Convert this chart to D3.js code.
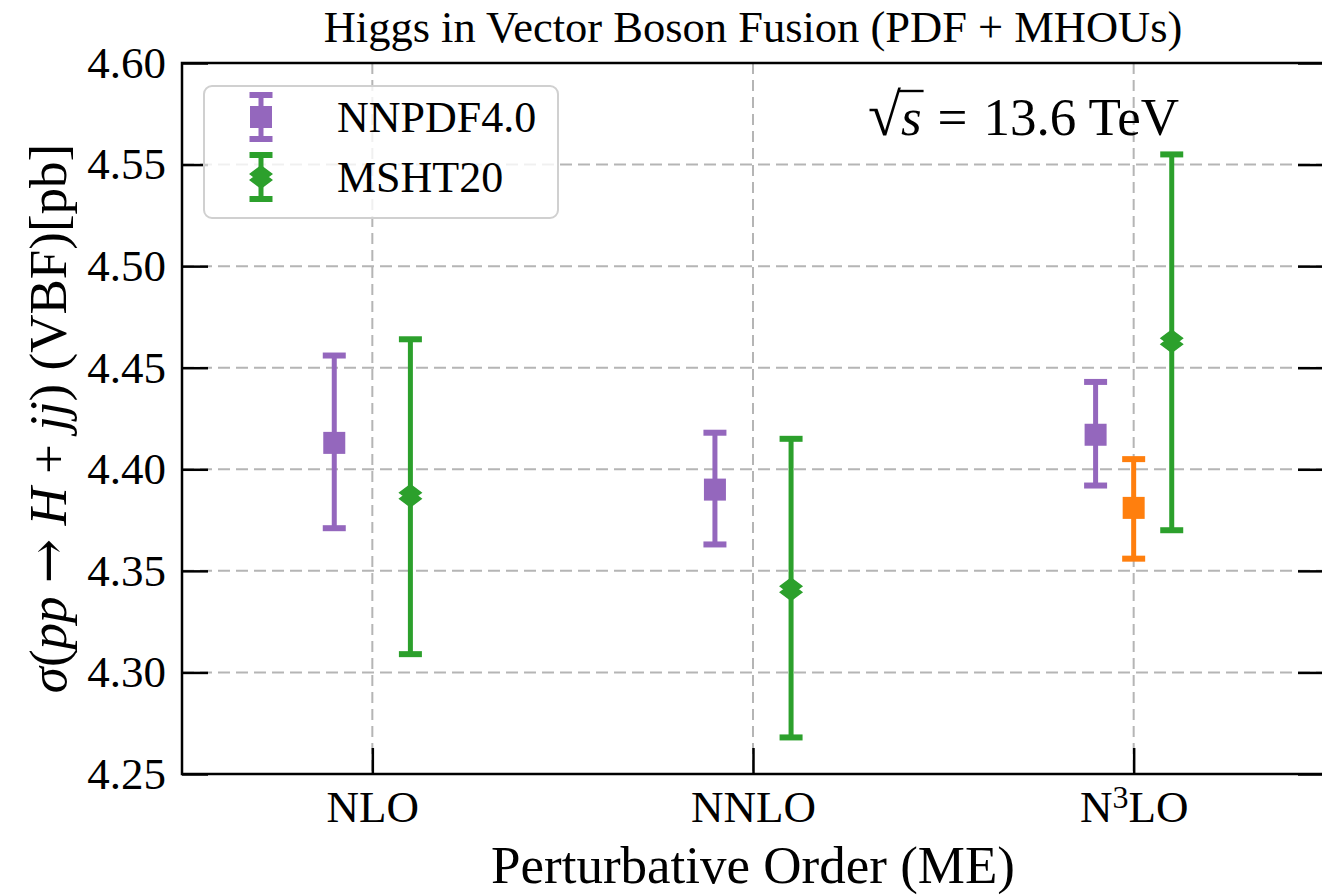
<!DOCTYPE html>
<html>
<head>
<meta charset="utf-8">
<script src="https://cdn.jsdelivr.net/npm/d3@7"></script>
<style>
  html, body { margin: 0; padding: 0; background: #fff; }
  svg { display: block; }
  svg text { font-family: 'Liberation Serif', serif; fill: #000; }
</style>
</head>
<body>
<div id="chart"></div>
<script>
/**
 * Chart data.
 */
const categories = ["NLO", "NNLO", "N3LO"];

const nnpdfCentral = [4.413, 4.390, 4.417];
const nnpdfLow = [4.371, 4.363, 4.392];
const nnpdfHigh = [4.456, 4.418, 4.443];

const mshtCentral = [4.387, 4.341, 4.463];
const mshtLow = [4.309, 4.268, 4.370];
const mshtHigh = [4.464, 4.415, 4.555];

// extra unlabelled point at N3LO
const extraCategory = [2];
const extraCentral = [4.381];
const extraLow = [4.356];
const extraHigh = [4.405];

const yTicks = [4.25, 4.30, 4.35, 4.40, 4.45, 4.50, 4.55, 4.60];

/**
 * Layout / style.
 */
const width = 1322, height = 896;
const plot = { left: 182, right: 1324, top: 63, bottom: 774 };
const tickLen = 26;
const colors = { nnpdf: "#9467bd", msht: "#2ca02c", extra: "#ff7f0e" };
const seriesOffset = 0.1;
const markerSize = 22;
const capWidth = 23;
const barWidth = 5;
const serif = "'Liberation Serif', serif";

const svg = d3.select("#chart").append("svg")
  .attr("width", width)
  .attr("height", height)
  .attr("font-family", serif);

const x = d3.scaleLinear().domain([-0.5, 2.5]).range([plot.left, plot.right]);
const y = d3.scaleLinear().domain([4.25, 4.60]).range([plot.bottom, plot.top]);

/**
 * Grid.
 */
const grid = svg.append("g").attr("class", "grid")
  .attr("stroke", "#b5b5b5")
  .attr("stroke-width", 2)
  .attr("stroke-dasharray", "12,6");

grid.selectAll(".hgrid").data(yTicks.slice(1, -1)).enter().append("line")
  .attr("x1", plot.left).attr("x2", plot.right)
  .attr("y1", d => y(d)).attr("y2", d => y(d));

grid.selectAll(".vgrid").data(d3.range(categories.length)).enter().append("line")
  .attr("stroke-dasharray", "11,6")
  .attr("x1", d => x(d)).attr("x2", d => x(d))
  .attr("y1", plot.top).attr("y2", plot.bottom);

/**
 * Axes (ticks pointing in).
 */
svg.append("g")
  .attr("transform", `translate(${plot.left},0)`)
  .call(d3.axisLeft(y).tickValues(yTicks).tickFormat(d3.format(".2f"))
    .tickSizeInner(-tickLen).tickSizeOuter(0).tickPadding(16));

svg.append("g")
  .attr("transform", `translate(${plot.right},0)`)
  .call(d3.axisRight(y).tickValues(yTicks).tickFormat("")
    .tickSizeInner(-tickLen).tickSizeOuter(0));

const xAxis = svg.append("g")
  .attr("transform", `translate(0,${plot.bottom})`)
  .call(d3.axisBottom(x).tickValues(d3.range(categories.length))
    .tickFormat(i => categories[i])
    .tickSizeInner(-tickLen).tickSizeOuter(0).tickPadding(16));

svg.selectAll(".domain").remove();
svg.selectAll("g").attr("font-family", serif);
svg.selectAll(".tick line").attr("stroke", "#000").attr("stroke-width", 2.5);
svg.selectAll(".tick text")
  .attr("fill", "#000")
  .attr("font-size", 45);

// N^3LO superscript
xAxis.selectAll(".tick text").filter(d => categories[d] === "N3LO")
  .text(null)
  .call(t => {
    t.append("tspan").text("N");
    t.append("tspan").attr("dy", -14).attr("font-size", 32).text("3");
    t.append("tspan").attr("dy", 14).text("LO");
  });

// frame
svg.append("rect")
  .attr("x", plot.left).attr("y", plot.top)
  .attr("width", plot.right - plot.left).attr("height", plot.bottom - plot.top)
  .attr("fill", "none").attr("stroke", "#000").attr("stroke-width", 2.5);

/**
 * Error bars.
 */
const series = [
  { name: "NNPDF4.0", color: colors.nnpdf, marker: "square", xs: d3.range(3).map(i => i - seriesOffset), c: nnpdfCentral, lo: nnpdfLow, hi: nnpdfHigh },
  { name: "MSHT20", color: colors.msht, marker: "diamond", xs: d3.range(3).map(i => i + seriesOffset), c: mshtCentral, lo: mshtLow, hi: mshtHigh },
  { name: null, color: colors.extra, marker: "square", xs: extraCategory, c: extraCentral, lo: extraLow, hi: extraHigh }
];

const diamondPath = (cx, cy) => {
  const w = 12, h = 9, off = 3;
  const d = (oy) => `M${cx},${cy + oy - h} L${cx + w},${cy + oy} L${cx},${cy + oy + h} L${cx - w},${cy + oy} Z`;
  return d(-off) + d(off);
};

const drawMarker = (g, type, cx, cy, color) => {
  if (type === "square") {
    g.append("rect")
      .attr("x", cx - markerSize / 2).attr("y", cy - markerSize / 2)
      .attr("width", markerSize).attr("height", markerSize)
      .attr("fill", color);
  } else {
    g.append("path").attr("d", diamondPath(cx, cy)).attr("fill", color);
  }
};

const drawErrorBar = (g, cx, yLo, yHi, color) => {
  g.append("line")
    .attr("x1", cx).attr("x2", cx).attr("y1", yLo).attr("y2", yHi)
    .attr("stroke", color).attr("stroke-width", barWidth);
  [yLo, yHi].forEach(yy => g.append("line")
    .attr("x1", cx - capWidth / 2).attr("x2", cx + capWidth / 2)
    .attr("y1", yy).attr("y2", yy)
    .attr("stroke", color).attr("stroke-width", barWidth + 1));
};

const marks = svg.append("g").attr("class", "marks");
series.forEach(s => {
  s.xs.forEach((xv, i) => {
    const g = marks.append("g");
    drawErrorBar(g, x(xv), y(s.lo[i]), y(s.hi[i]), s.color);
    drawMarker(g, s.marker, x(xv), y(s.c[i]), s.color);
  });
});

/**
 * Legend.
 */
const legend = svg.append("g").attr("class", "legend");
legend.append("rect")
  .attr("x", 204).attr("y", 86).attr("width", 354).attr("height", 132)
  .attr("rx", 8)
  .attr("fill", "#fff").attr("fill-opacity", 0.8)
  .attr("stroke", "#d0d0d0").attr("stroke-width", 2);

series.filter(s => s.name).forEach((s, i) => {
  const cy = 117 + i * 60;
  const g = legend.append("g");
  drawErrorBar(g, 261, cy + 22, cy - 22, s.color);
  drawMarker(g, s.marker, 261, cy, s.color);
  g.append("text")
    .attr("x", 337).attr("y", cy + 15)
    .attr("font-size", 44)
    .text(s.name);
});

/**
 * Texts.
 */
svg.append("text")
  .attr("x", (plot.left + plot.right) / 2).attr("y", 42)
  .attr("text-anchor", "middle")
  .attr("font-size", 44.5)
  .text("Higgs in Vector Boson Fusion (PDF + MHOUs)");

svg.append("text")
  .attr("x", (plot.left + plot.right) / 2).attr("y", 883)
  .attr("text-anchor", "middle")
  .attr("font-size", 53)
  .text("Perturbative Order (ME)");

const yLabel = svg.append("text")
  .attr("transform", `translate(66,${(plot.top + plot.bottom) / 2}) rotate(-90)`)
  .attr("text-anchor", "middle")
  .attr("font-size", 53);
[["σ", true], ["(", false], ["pp", true], [" ", false], ["→", false, "'DejaVu Serif', serif"], [" ", false],
 ["H", true], [" + ", false], ["jj", true], [") (VBF)[pb]", false]].forEach(([t, it, fam]) =>
  yLabel.append("tspan")
    .attr("font-style", it ? "italic" : "normal")
    .attr("font-family", fam || serif)
    .text(t));

// sqrt(s) annotation
const energyBase = 135;
const energy = svg.append("text")
  .attr("x", 868).attr("y", energyBase)
  .attr("font-size", 53);
energy.append("tspan").attr("font-size", 60).text("√");
energy.append("tspan").attr("font-style", "italic").text("s");
energy.append("tspan").attr("dx", 16).text("=");
energy.append("tspan").attr("dx", 16).text("13.6 TeV");
const node = energy.node();
const rootEnd = node.getEndPositionOfChar(0).x;
const sEnd = node.getEndPositionOfChar(1).x;
svg.append("line")
  .attr("x1", rootEnd - 3).attr("x2", sEnd + 2)
  .attr("y1", energyBase - 44).attr("y2", energyBase - 44)
  .attr("stroke", "#000").attr("stroke-width", 2.4);
</script>
</body>
</html>
